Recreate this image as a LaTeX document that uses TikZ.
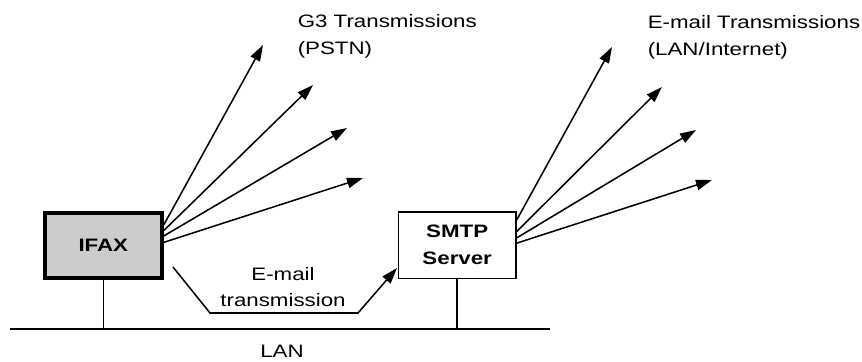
\documentclass[tikz,border=0pt]{standalone}
\usepackage{fontspec}
\setmainfont{Liberation Sans}[FakeStretch=1.24]
\usetikzlibrary{arrows.meta}

\begin{document}
\begin{tikzpicture}[
    line width=1.1pt,
    font=\fontsize{12.8}{19.2}\selectfont,
    tx arrow/.style={-{Triangle[length=0.4cm,width=0.26cm]}},
    unit box/.style={draw, align=center, inner sep=0pt, font=\fontsize{12.8}{19.2}\selectfont\bfseries},
    txt/.style={inner sep=0pt}
  ]
\useasboundingbox (0,0) rectangle (21.55,9.025);
\node[unit box, fill=black!20, line width=0.1cm, minimum width=2.93cm, minimum height=1.625cm] (ifax) at (2.583,2.8875) {IFAX};
\node[unit box, line width=1.2pt, minimum width=2.935cm, minimum height=1.67cm] (smtp) at (11.43,2.895) {SMTP\\Server};

% LAN
\coordinate (lanL) at (0.25,0.8); \coordinate (lanR) at (13.75,0.8);
\draw (lanL) -- (lanR);
\coordinate (ifaxtap) at (ifax.south |- lanL); \coordinate (smtptap) at (smtp.south |- lanL);
\draw (ifax.south) -- (ifaxtap); \draw (smtp.south) -- (smtptap);
\node[txt] (lan) at (7.05,0.2375) {LAN};

% G3 transmissions
\coordinate (g1) at (6.575,7.9); \coordinate (g2) at (7.825,6.9);
\coordinate (g3) at (8.675,5.825); \coordinate (g4) at (9.075,4.575);
\draw[tx arrow] (ifax.19) -- (g1); \draw[tx arrow] (ifax.14) -- (g2);
\draw[tx arrow] (ifax.9) -- (g3); \draw[tx arrow] (ifax.3.5) -- (g4);
\node[txt, anchor=north west, align=left] (pstn) at (7.425,8.675) {G3 Transmissions\\(PSTN)};

% e-mail transmissions
\coordinate (e1) at (15.3,7.85); \coordinate (e2) at (16.55,6.85);
\coordinate (e3) at (17.4,5.775); \coordinate (e4) at (17.8,4.525);
\draw[tx arrow] (smtp.23) -- (e1); \draw[tx arrow] (smtp.13) -- (e2);
\draw[tx arrow] (smtp.7.8) -- (e3); \draw[tx arrow] (smtp.2.4) -- (e4);
\node[txt, anchor=north west, align=left] (inet) at (16.175,8.65) {E-mail Transmissions\\(LAN/Internet)};

% ifax -> smtp
\coordinate (m1) at (4.325,2.35); \coordinate (m2) at (5.25,1.2);
\coordinate (m3) at (8.95,1.2); \coordinate (m4) at (9.925,2.325);
\draw[tx arrow] (m1) -- (m2) -- (m3) -- (m4);
\node[txt, anchor=north, align=center, font=\fontsize{12.8}{18.4}\selectfont] (mail) at (7.075,2.35) {E-mail\\transmission};
\end{tikzpicture}
\end{document}
